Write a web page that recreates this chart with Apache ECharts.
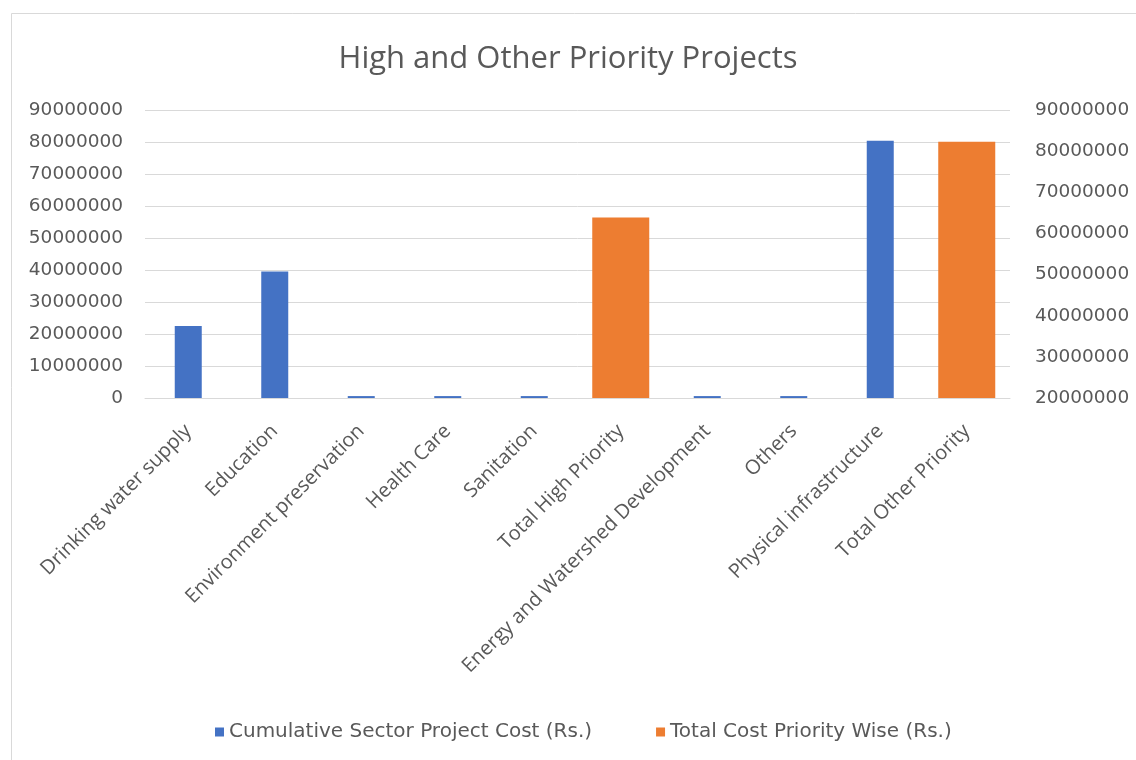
<!DOCTYPE html>
<html>
<head>
<meta charset="utf-8">
<script src="https://cdn.jsdelivr.net/npm/echarts@6/dist/echarts.min.js"></script>
<style>
  html, body { margin: 0; padding: 0; background: #fff; }
  #chart { width: 1136px; height: 760px; }
</style>
</head>
<body>
<div id="chart"></div>
<script>
// categories along the x axis
var categories = [
  'Drinking water supply', 'Education', 'Environment preservation', 'Health Care',
  'Sanitation', 'Total High Priority', 'Energy and Watershed Development',
  'Others', 'Physical infrastructure', 'Total Other Priority'
]
// left axis: cumulative sector cost
var sectorCost = [22500000, 39500000, 600000, 600000, 600000, null, 600000, 600000, 80400000, null]
// right axis: total cost priority wise
var priorityCost = [null, null, null, null, null, 63900000, null, null, null, 82300000]

var textColor = '#595959'
var gridColor = '#d9d9d9'
var font = 'Open Sans'

var myChart = echarts.init(document.getElementById('chart'))
var option = {
  backgroundColor: '#fff',
  animation: false,
  title: {
    text: 'High and Other Priority Projects',
    left: 'center',
    top: 39,
    textStyle: { color: textColor, fontSize: 31, fontWeight: 'normal', fontFamily: font }
  },
  graphic: [{
    type: 'rect',
    shape: { x: 11.5, y: 13.5, width: 1140, height: 760 },
    style: { fill: 'none', stroke: gridColor, lineWidth: 1 },
    silent: true
  }],
  legend: {
    bottom: 13,
    left: 210,
    itemWidth: 9,
    itemHeight: 9,
    itemGap: 64,
    icon: 'rect',
    textStyle: { color: textColor, fontSize: 20, fontFamily: 'DejaVu Sans' }
  },
  grid: { left: 145, right: 126, top: 110, bottom: 362 },
  xAxis: [{
    type: 'category',
    data: categories,
    axisLine: { lineStyle: { color: gridColor } },
    axisTick: { show: false },
    axisLabel: { rotate: 45, interval: 0, margin: 30, color: textColor, fontSize: 20, fontFamily: font }
  }, {
    type: 'category',
    data: categories,
    show: false
  }],
  yAxis: [{
    type: 'value',
    min: 0,
    max: 90000000,
    interval: 10000000,
    axisLine: { show: false },
    axisTick: { show: false },
    splitLine: { lineStyle: { color: gridColor } },
    axisLabel: {
      margin: 22, color: textColor, fontSize: 18.5, fontFamily: 'DejaVu Sans',
      formatter: function(v) { return String(v) }
    }
  }, {
    type: 'value',
    min: 20000000,
    max: 90000000,
    interval: 10000000,
    axisLine: { show: false },
    axisTick: { show: false },
    splitLine: { show: false },
    axisLabel: {
      margin: 25, color: textColor, fontSize: 18.5, fontFamily: 'DejaVu Sans',
      formatter: function(v) { return String(v) }
    }
  }],
  series: [{
    name: 'Cumulative Sector Project Cost (Rs.)',
    type: 'bar',
    xAxisIndex: 0,
    yAxisIndex: 0,
    barWidth: 27,
    itemStyle: { color: '#4472c4' },
    data: sectorCost
  }, {
    name: 'Total Cost Priority Wise (Rs.)',
    type: 'bar',
    xAxisIndex: 1,
    yAxisIndex: 1,
    barWidth: 57,
    itemStyle: { color: '#ed7d31' },
    data: priorityCost
  }]
}
myChart.setOption(option)
</script>
</body>
</html>
